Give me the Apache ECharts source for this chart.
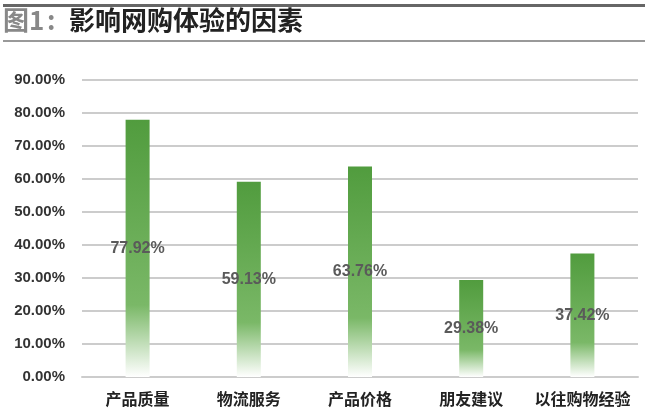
<!DOCTYPE html>
<html>
<head>
<meta charset="utf-8">
<script src="https://cdn.jsdelivr.net/npm/echarts@6/dist/echarts.min.js"></script>
<style>
  html, body { margin: 0; padding: 0; background: #fff; }
  #echart { width: 659px; height: 414px; }
</style>
</head>
<body>
<div id="echart"></div>
<script>
const categories = ["产品质量", "物流服务", "产品价格", "朋友建议", "以往购物经验"];
const values = [77.92, 59.13, 63.76, 29.38, 37.42];
const yTicks = [0, 10, 20, 30, 40, 50, 60, 70, 80, 90];

const chart = echarts.init(document.getElementById("echart"));

const barColor = new echarts.graphic.LinearGradient(0, 0, 0, 1, [
  { offset: 0, color: "#519c3e" },
  { offset: 0.72, color: "#7ab867" },
  { offset: 1, color: "#ffffff" },
]);

const titleFont = { fontSize: 26, fontWeight: "bold", fontFamily: "Noto Sans CJK SC" };

chart.setOption({
  animation: false,
  graphic: [
    { type: "rect", left: 3, top: 4, shape: { width: 642, height: 3 }, style: { fill: "#666" } },
    { type: "rect", left: 3, top: 40, shape: { width: 642, height: 2 }, style: { fill: "#999" } },
    { type: "text", left: 3, top: 7, style: Object.assign({ text: "图1", fill: "#888" }, titleFont) },
    { type: "text", left: 47, top: 7, style: Object.assign({ text: ":", fill: "#888" }, titleFont) },
    { type: "text", left: 69, top: 7, style: Object.assign({ text: "影响网购体验的因素", fill: "#222" }, titleFont) },
  ],
  grid: { left: 82, right: 21, top: 80, bottom: 37, containLabel: false },
  xAxis: {
    type: "category",
    data: categories,
    axisTick: { show: false },
    axisLine: { lineStyle: { color: "#cccccc", width: 2 } },
    axisLabel: {
      interval: 0,
      color: "#222", fontSize: 16, fontWeight: "bold", margin: 14,
      fontFamily: "Noto Sans CJK SC",
    },
  },
  yAxis: {
    type: "value",
    min: yTicks[0],
    max: yTicks[yTicks.length - 1],
    interval: 10,
    axisLine: { show: false },
    axisTick: { show: false },
    splitLine: { lineStyle: { color: "#cccccc", width: 2 } },
    axisLabel: {
      color: "#333", fontSize: 15, fontWeight: "bold", margin: 17,
      fontFamily: "Liberation Sans",
      formatter: (v) => v.toFixed(2) + "%",
    },
  },
  series: [
    {
      type: "bar",
      data: values,
      barWidth: 24,
      itemStyle: { color: barColor },
      label: {
        show: true,
        position: "inside",
        color: "#5a5a5a",
        fontSize: 16,
        fontWeight: "bold",
        fontFamily: "Liberation Sans",
        formatter: (p) => p.value.toFixed(2) + "%",
      },
    },
  ],
});

window.addEventListener("resize", () => chart.resize());
</script>
</body>
</html>
